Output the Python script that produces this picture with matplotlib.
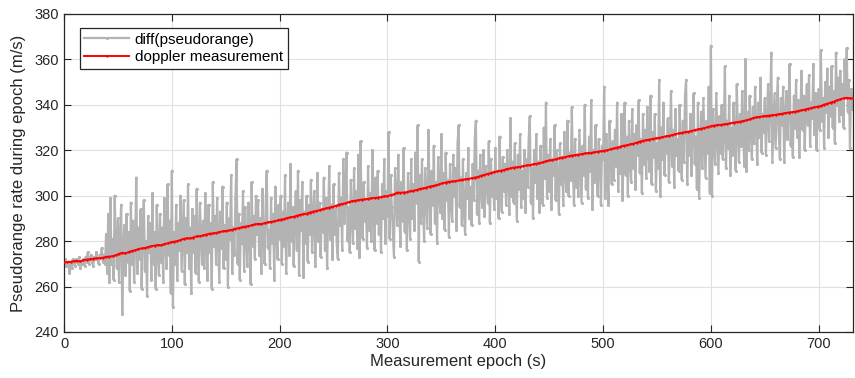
import numpy as np
import matplotlib
matplotlib.use("Agg")
import matplotlib.pyplot as plt

plt.rcParams['font.family'] = ['Liberation Sans', 'DejaVu Sans']

# diff(pseudorange), one value per epoch second 0..732
pseudorange_rate = [
    271, 272, 269, 270, 271, 266, 270, 268, 272, 271,
    269, 272, 271, 270, 273, 268, 271, 270, 272, 269,
    273, 271, 275, 270, 272, 274, 271, 269, 273, 272,
    275, 272, 270, 274, 273, 277, 271, 274, 270, 283,
    266, 292, 262, 299, 270, 281, 263, 300, 278, 268,
    290, 262, 283, 296, 248, 279, 287, 265, 292, 271,
    284, 258, 297, 270, 289, 262, 281, 308, 266, 286,
    272, 294, 259, 285, 298, 267, 280, 256, 291, 275,
    288, 263, 301, 270, 284, 259, 296, 276, 265, 292,
    271, 286, 262, 299, 280, 268, 305, 274, 289, 257,
    311, 251, 284, 270, 296, 263, 288, 276, 300, 267,
    283, 298, 261, 290, 275, 305, 268, 286, 257, 294,
    275, 291, 266, 303, 279, 262, 297, 284, 270, 289,
    268, 301, 280, 263, 296, 275, 288, 259, 306, 278,
    291, 270, 299, 281, 262, 293, 277, 304, 268, 287,
    272, 297, 260, 290, 281, 309, 266, 286, 274, 299,
    316, 270, 292, 263, 288, 279, 302, 267, 295, 281,
    269, 297, 284, 261, 306, 278, 291, 272, 300, 283,
    298, 274, 290, 266, 303, 281, 270, 295, 311, 277,
    285, 268, 299, 279, 292, 263, 304, 283, 272, 296,
    281, 300, 270, 293, 278, 309, 266, 288, 297, 274,
    314, 280, 295, 269, 290, 302, 276, 311, 265, 298,
    285, 306, 264, 293, 279, 300, 271, 296, 283, 307,
    275, 291, 302, 269, 288, 310, 280, 297, 273, 294,
    284, 308, 276, 299, 268, 292, 313, 281, 296, 272,
    305, 283, 294, 278, 272, 310, 287, 299, 276, 316,
    288, 301, 319, 280, 295, 275, 307, 290, 279, 312,
    286, 302, 277, 318, 273, 324, 294, 281, 306, 289,
    297, 277, 313, 285, 301, 280, 320, 292, 276, 308,
    288, 311, 283, 298, 275, 305, 290, 316, 279, 302,
    291, 328, 281, 309, 295, 284, 273, 312, 299, 287,
    318, 293, 278, 306, 289, 321, 284, 301, 276, 310,
    295, 281, 316, 290, 305, 285, 319, 297, 331, 271,
    309, 288, 316, 294, 280, 312, 299, 286, 329, 301,
    283, 311, 296, 322, 288, 306, 279, 317, 301, 293,
    327, 290, 310, 285, 319, 298, 307, 282, 314, 296,
    289, 318, 300, 312, 285, 323, 331, 295, 308, 287,
    316, 293, 283, 310, 299, 321, 290, 304, 287, 314,
    298, 325, 333, 292, 311, 288, 318, 302, 295, 320,
    291, 313, 305, 297, 324, 288, 316, 300, 310, 294,
    321, 299, 311, 290, 326, 305, 293, 317, 302, 314,
    296, 320, 308, 292, 334, 300, 315, 297, 323, 306,
    289, 318, 303, 327, 295, 311, 299, 320, 293, 316,
    304, 325, 335, 297, 312, 290, 320, 306, 327, 299,
    315, 293, 322, 305, 296, 330, 308, 341, 299, 318,
    302, 325, 294, 316, 309, 331, 298, 320, 306, 292,
    323, 305, 317, 296, 328, 310, 302, 333, 300, 319,
    307, 339, 311, 296, 325, 304, 318, 300, 329, 313,
    297, 322, 309, 340, 303, 318, 299, 326, 311, 342,
    294, 320, 306, 331, 312, 300, 325, 315, 296, 322,
    316, 348, 299, 327, 310, 296, 333, 318, 305, 324,
    307, 329, 313, 341, 302, 321, 310, 336, 298, 318,
    341, 309, 326, 300, 333, 315, 306, 338, 312, 327,
    303, 331, 318, 342, 310, 325, 301, 336, 314, 329,
    308, 339, 320, 311, 344, 305, 328, 317, 336, 302,
    323, 312, 351, 300, 330, 316, 341, 309, 326, 319,
    334, 306, 323, 346, 313, 329, 304, 338, 318, 325,
    311, 340, 320, 307, 333, 315, 344, 351, 305, 327,
    318, 336, 309, 330, 345, 314, 326, 303, 341, 299,
    322, 337, 312, 343, 325, 308, 333, 319, 348, 301,
    366, 300, 338, 322, 314, 345, 327, 310, 335, 319,
    340, 316, 328, 357, 312, 333, 321, 344, 309, 330,
    318, 341, 325, 311, 349, 328, 315, 336, 322, 346,
    326, 313, 360, 311, 337, 320, 344, 329, 316, 339,
    323, 348, 330, 314, 341, 326, 352, 319, 336, 328,
    343, 318, 333, 349, 324, 339, 363, 315, 330, 345,
    321, 337, 352, 327, 316, 343, 331, 348, 315, 334,
    346, 325, 339, 358, 322, 336, 317, 344, 330, 351,
    326, 342, 317, 335, 355, 329, 344, 320, 338, 349,
    331, 353, 322, 341, 334, 358, 327, 345, 320, 339,
    347, 329, 364, 333, 343, 321, 350, 337, 356, 326,
    348, 335, 357, 330, 346, 323, 363, 340, 352, 333,
    355, 336, 349, 330, 360, 344, 365, 337, 351, 321,
    347, 338, 345,
]
pseudorange_epochs = np.arange(len(pseudorange_rate))

# doppler measurement, sampled every 3 s (0..732)
doppler_epochs = np.arange(0, 733, 3)
doppler_rate = [
    270.6, 270.8, 270.9, 271.2, 271.3, 271.1, 271.6, 271.9, 272.0, 272.3,
    272.4, 272.5, 272.7, 273.1, 273.2, 273.4, 273.8, 274.4, 274.9, 274.6,
    275.2, 275.7, 276.0, 276.5, 276.8, 277.0, 277.4, 277.8, 278.0, 278.3,
    278.2, 278.7, 279.0, 279.5, 279.8, 280.0, 280.5, 281.0, 281.3, 281.2,
    281.6, 282.1, 282.2, 282.5, 282.9, 283.3, 283.4, 283.6, 284.0, 284.3,
    284.5, 284.7, 285.0, 285.5, 285.7, 286.1, 286.4, 286.6, 287.0, 287.4,
    287.6, 287.5, 287.9, 288.3, 288.5, 288.7, 289.1, 289.5, 289.7, 290.2,
    290.5, 290.7, 291.2, 291.6, 291.9, 292.1, 292.6, 293.0, 293.3, 293.6,
    294.1, 294.4, 294.8, 295.1, 295.5, 296.1, 296.4, 296.6, 297.2, 297.6,
    297.8, 298.0, 298.3, 298.4, 298.6, 298.9, 299.0, 299.2, 299.4, 299.7,
    299.8, 300.3, 300.6, 301.4, 301.3, 301.4, 301.6, 302.0, 302.2, 302.5,
    303.0, 303.2, 303.6, 304.0, 304.3, 304.6, 305.0, 305.5, 305.8, 306.1,
    306.3, 306.4, 306.7, 307.0, 307.2, 307.4, 307.7, 308.0, 308.3, 308.8,
    309.2, 309.6, 310.0, 310.5, 310.7, 311.0, 311.3, 311.8, 312.0, 312.4,
    312.5, 312.7, 313.1, 313.3, 313.5, 313.8, 314.1, 314.3, 314.7, 315.2,
    315.5, 315.7, 316.0, 316.5, 316.8, 317.0, 317.4, 317.7, 317.9, 318.1,
    318.3, 318.6, 318.8, 318.9, 319.1, 319.4, 319.6, 319.8, 320.0, 320.5,
    320.8, 321.2, 321.6, 322.0, 322.2, 322.6, 322.9, 323.3, 323.8, 324.2,
    324.5, 324.7, 325.0, 325.3, 325.5, 325.8, 326.1, 326.4, 326.7, 327.1,
    327.4, 327.7, 328.0, 328.2, 328.5, 328.9, 329.2, 329.5, 329.8, 330.2,
    330.6, 330.9, 331.1, 331.2, 331.4, 331.6, 331.9, 332.2, 332.4, 332.6,
    332.9, 333.2, 333.6, 334.2, 334.5, 334.7, 334.9, 335.1, 335.3, 335.4,
    335.6, 335.9, 336.1, 336.4, 336.6, 336.8, 337.0, 337.3, 337.6, 337.9,
    338.3, 338.6, 338.9, 339.2, 339.5, 340.1, 340.5, 341.0, 341.4, 342.0,
    342.4, 342.9, 343.1, 342.9, 342.8,
]

x_ticks = [0, 100, 200, 300, 400, 500, 600, 700]
y_ticks = [240, 260, 280, 300, 320, 340, 360, 380]

fig = plt.figure(figsize=(8.55, 3.78), dpi=100)
ax = fig.add_axes([0.0749, 0.1217, 0.9230, 0.8413])

ax.plot(pseudorange_epochs, pseudorange_rate, color=(0.70, 0.70, 0.70),
        lw=1.6, marker='.', markersize=2.5, label='diff(pseudorange)', zorder=2)
ax.plot(doppler_epochs, doppler_rate, color='red', lw=1.4,
        marker='.', markersize=1.5, label='doppler measurement', zorder=3)

ax.set_xlim(0, 732)
ax.set_ylim(240, 380)
ax.set_xticks(x_ticks)
ax.set_yticks(y_ticks)
ax.grid(True, color=(0.88, 0.88, 0.88), lw=0.8)
ax.set_axisbelow(True)
ax.tick_params(direction='in', top=True, right=True, length=5,
               color=(0.15, 0.15, 0.15), labelsize=10.5, labelcolor=(0.15, 0.15, 0.15))
for s in ax.spines.values():
    s.set_color((0.15, 0.15, 0.15))
    s.set_linewidth(0.9)

ax.set_xlabel('Measurement epoch (s)', fontsize=12, color=(0.15, 0.15, 0.15), labelpad=2)
ax.set_ylabel('Pseudorange rate during epoch (m/s)', fontsize=12, color=(0.15, 0.15, 0.15), labelpad=6)

leg = ax.legend(loc='upper left', bbox_to_anchor=(0.02, 0.956), borderaxespad=0,
                numpoints=1, fancybox=False, edgecolor=(0.15, 0.15, 0.15), framealpha=1,
                fontsize=11, handlelength=2.9, borderpad=0.3, labelspacing=0.25,
                handletextpad=0.4)
leg.get_frame().set_linewidth(0.9)

fig.savefig('out.png', dpi=100)
